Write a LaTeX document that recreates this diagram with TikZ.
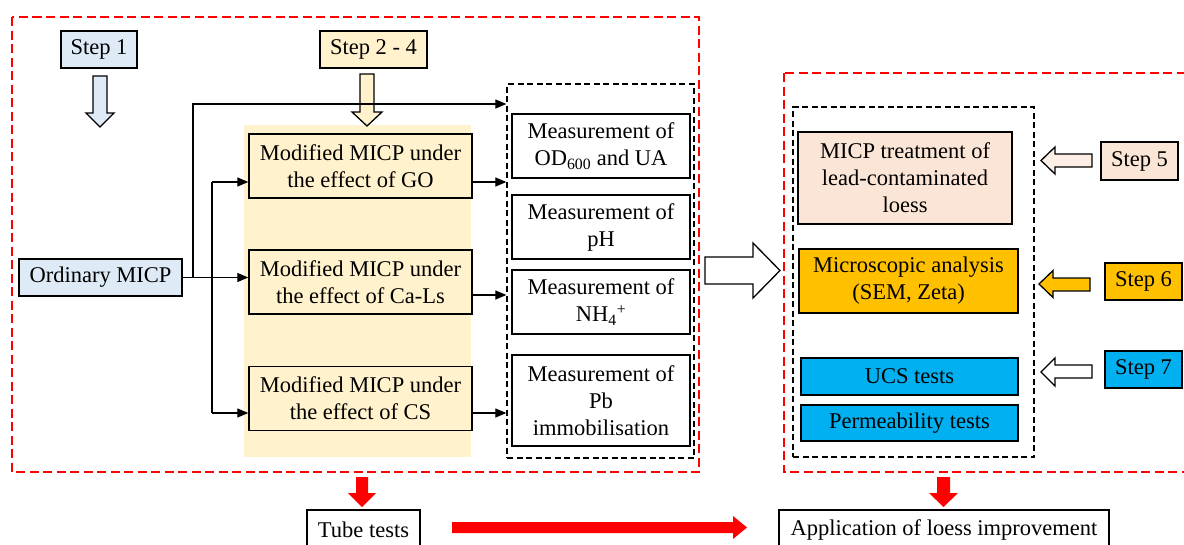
\documentclass[tikz,border=0pt]{standalone}
\usepackage{fontspec}
\setmainfont{Liberation Serif}
\usetikzlibrary{arrows.meta,calc}
\definecolor{lblue}{HTML}{DEEBF7}
\definecolor{lyel}{HTML}{FFF2CC}
\definecolor{peach}{HTML}{FBE5D6}
\definecolor{orng}{HTML}{FFC000}
\definecolor{cyanb}{HTML}{00B0F0}
\begin{document}
\begin{tikzpicture}[x=1pt,y=-1pt,
  font=\fontsize{22.5}{27}\selectfont,
  bx/.style={draw=black, line width=1.4pt, align=center, inner sep=0pt},
  reddash/.style={draw=red, line width=1.3pt, dash pattern=on 9pt off 4.5pt},
  blkdash/.style={draw=black, line width=1.3pt, dash pattern=on 6pt off 3.5pt, inner sep=0pt},
  ln/.style={draw=black, line width=1.2pt},
  arr/.style={ln, -{Triangle[length=11pt,width=9pt]}},
  harrow/.style={draw=black, line width=1.3pt},
  redarrow/.style={fill=red, draw=none}]
\useasboundingbox (0,0) rectangle (1184,544);

% red dashed frames
\draw[reddash] (12,17) rectangle (699,472);
\draw[reddash] (784,73) rectangle (1200,472);

% yellow panel
\fill[lyel] (244,125) rectangle (471,457);

% left part
\node[bx, fill=lblue, minimum width=76pt, minimum height=37pt] (s1) at (99,49.5) {Step 1};
\node[bx, fill=lyel, minimum width=107pt, minimum height=37pt] (s24) at (373.5,49.5) {Step 2 - 4};
\node[bx, fill=lblue, minimum width=163pt, minimum height=37pt] (ord) at (100.5,277.5) {Ordinary MICP};

\node[bx, fill=lyel, minimum width=223pt, minimum height=64pt] (go) at (360.5,166) {Modified MICP under\\the effect of GO};
\node[bx, fill=lyel, minimum width=223pt, minimum height=64pt] (cals) at (360.5,282) {Modified MICP under\\the effect of Ca-Ls};
\node[bx, fill=lyel, minimum width=223pt, minimum height=64pt] (cs) at (360.5,398.5) {Modified MICP under\\the effect of CS};

% measurement group
\node[blkdash, minimum width=187pt, minimum height=374pt] (meas) at (600.5,271) {};
\node[bx, minimum width=178pt, minimum height=64pt] (m1) at (601,146) {Measurement of\\OD\textsubscript{600} and UA};
\node[bx, minimum width=178pt, minimum height=64pt] (m2) at (601,227) {Measurement of\\pH};
\node[bx, minimum width=178pt, minimum height=64pt] (m3) at (601,302) {Measurement of\\NH\textsubscript{4}\textsuperscript{+}};
\node[bx, minimum width=178pt, minimum height=91pt] (m4) at (601,400.5) {Measurement of\\Pb\\immobilisation};

% step arrows (hollow block arrows)
\draw[harrow, fill=lblue] (93,76) -- (107,76) -- (107,113) -- (114,113) -- (100,127) -- (86,113) -- (93,113) -- cycle;
\draw[harrow, fill=lyel] (360,74) -- (374,74) -- (374,112) -- (382,112) -- (367,126) -- (352,112) -- (360,112) -- cycle;

% connectors
\coordinate (j0) at (193,277.5);
\coordinate (j1) at (212,182);
\coordinate (j2) at (212,413);
\draw[arr] (ord.east) -- (ord.east -| cals.west);
\draw[arr] (j0) -- (193,104) -- (meas.west |- 0,104);
\draw[ln] (j1) -- (j2);
\draw[arr] (j1) -- (go.west |- j1);
\draw[arr] (j2) -- (cs.west |- j2);
\draw[arr] (go.east |- 0,182) -- (meas.west |- 0,182);
\draw[arr] (cals.east |- 0,295) -- (meas.west |- 0,295);
\draw[arr] (cs.east |- 0,413) -- (meas.west |- 0,413);

% big hollow arrow
\draw[harrow, fill=white] (705,257) -- (753,257) -- (753,243) -- (780,270.5) -- (753,298) -- (753,284) -- (705,284) -- cycle;

% right group
\node[blkdash, minimum width=241pt, minimum height=350pt] (rbox) at (913.5,282) {};
\node[bx, fill=peach, minimum width=214pt, minimum height=92pt] (trt) at (905,178) {MICP treatment of\\lead-contaminated\\loess};
\node[bx, fill=orng, minimum width=219pt, minimum height=64pt] (mic) at (908.5,281) {Microscopic analysis\\(SEM, Zeta)};
\node[bx, fill=cyanb, minimum width=217pt, minimum height=37pt] (ucs) at (909.5,376.5) {UCS tests};
\node[bx, fill=cyanb, minimum width=217pt, minimum height=36pt] (perm) at (909.5,423) {Permeability tests};

\node[bx, fill=peach, minimum width=77pt, minimum height=38pt] (s5) at (1139.5,161) {Step 5};
\node[bx, fill=orng, minimum width=77pt, minimum height=37pt] (s6) at (1143.5,281.5) {Step 6};
\node[bx, fill=cyanb, minimum width=77pt, minimum height=37pt] (s7) at (1143.5,369.5) {Step 7};

\draw[harrow, fill=peach!60] (1092,154) -- (1055,154) -- (1055,147) -- (1041,160.5) -- (1055,174) -- (1055,167) -- (1092,167) -- cycle;
\draw[harrow, fill=orng] (1090,278) -- (1053,278) -- (1053,270.5) -- (1039,284) -- (1053,297.5) -- (1053,291) -- (1090,291) -- cycle;
\draw[harrow, fill=white] (1092,365) -- (1055,365) -- (1055,358) -- (1041,372) -- (1055,386) -- (1055,378) -- (1092,378) -- cycle;

% bottom
\node[bx, line width=1.2pt, minimum width=113pt, minimum height=40pt] (tube) at (363.5,530) {Tube tests};
\node[bx, line width=1.2pt, minimum width=330pt, minimum height=40pt] (app) at (944,530) {Application of loess improvement};
\fill[redarrow] (356,477) -- (368,477) -- (368,493) -- (376,493) -- (362,507) -- (348,493) -- (356,493) -- cycle;
\fill[redarrow] (937,477) -- (950,477) -- (950,493) -- (958,493) -- (943.5,507) -- (929,493) -- (937,493) -- cycle;
\fill[redarrow] (452,522) -- (733,522) -- (733,516) -- (747,527.5) -- (733,539) -- (733,533) -- (452,533) -- cycle;
\end{tikzpicture}
\end{document}
